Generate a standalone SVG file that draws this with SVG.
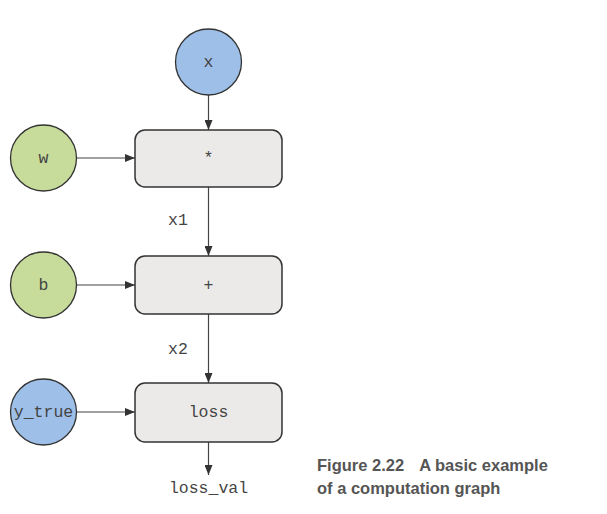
<svg xmlns="http://www.w3.org/2000/svg" width="607" height="514" viewBox="0 0 607 514">
<style>
.blue{fill:#9dbfe8;stroke:#333;stroke-width:1.3}
.green{fill:#c7dc9a;stroke:#333;stroke-width:1.3}
.box{fill:#ebeae9;stroke:#333;stroke-width:1.5}
.t{font-family:"Liberation Mono",monospace;font-size:16.5px;fill:#444;text-anchor:middle;dominant-baseline:central}
.edge{stroke:#444;stroke-width:1.2;fill:none;marker-end:url(#ah)}
.cap{font-family:"Liberation Sans",Arial,sans-serif;font-size:16.5px;font-weight:bold;fill:#555}
</style>
<defs>
<marker id="ah" viewBox="0 0 10 8" refX="10" refY="4" markerWidth="10" markerHeight="8" markerUnits="userSpaceOnUse" orient="auto">
<path d="M0,0 L10,4 L0,8 Z" fill="#333"/>
</marker>
</defs>
<g id="connectors">
<line class="edge" x1="208.5" y1="95" x2="208.5" y2="130"/>
<line class="edge" x1="77" y1="158" x2="135" y2="158"/>
<line class="edge" x1="208.5" y1="187" x2="208.5" y2="256"/>
<line class="edge" x1="77" y1="285" x2="135" y2="285"/>
<line class="edge" x1="208.5" y1="314" x2="208.5" y2="383"/>
<line class="edge" x1="77" y1="412" x2="135" y2="412"/>
<line class="edge" x1="208.5" y1="442" x2="208.5" y2="475"/>
</g>
<g id="node-x"><circle class="blue" cx="208.5" cy="62" r="33"/><text class="t" x="208.5" y="62">x</text></g>
<g id="node-w"><circle class="green" cx="43.5" cy="158" r="33"/><text class="t" x="43.5" y="158">w</text></g>
<g id="node-mul"><rect class="box" x="135" y="130" width="147" height="57" rx="10"/><text class="t" x="208.5" y="158">*</text></g>
<g id="label-x1"><text class="t" x="178" y="220">x1</text></g>
<g id="node-b"><circle class="green" cx="43.5" cy="285" r="33"/><text class="t" x="43.5" y="285">b</text></g>
<g id="node-add"><rect class="box" x="135" y="256" width="147" height="58" rx="10"/><text class="t" x="208.5" y="285">+</text></g>
<g id="label-x2"><text class="t" x="178" y="349">x2</text></g>
<g id="node-ytrue"><circle class="blue" cx="43.5" cy="412" r="33"/><text class="t" x="43.5" y="412">y_true</text></g>
<g id="node-loss"><rect class="box" x="135" y="383" width="147" height="59" rx="10"/><text class="t" x="208.5" y="412">loss</text></g>
<g id="label-lossval"><text class="t" x="208.5" y="488">loss_val</text></g>
<g id="caption">
<text class="cap" x="317" y="471">Figure 2.22<tspan dx="15">A basic example</tspan></text>
<text class="cap" x="317" y="494">of a computation graph</text>
</g>
</svg>
